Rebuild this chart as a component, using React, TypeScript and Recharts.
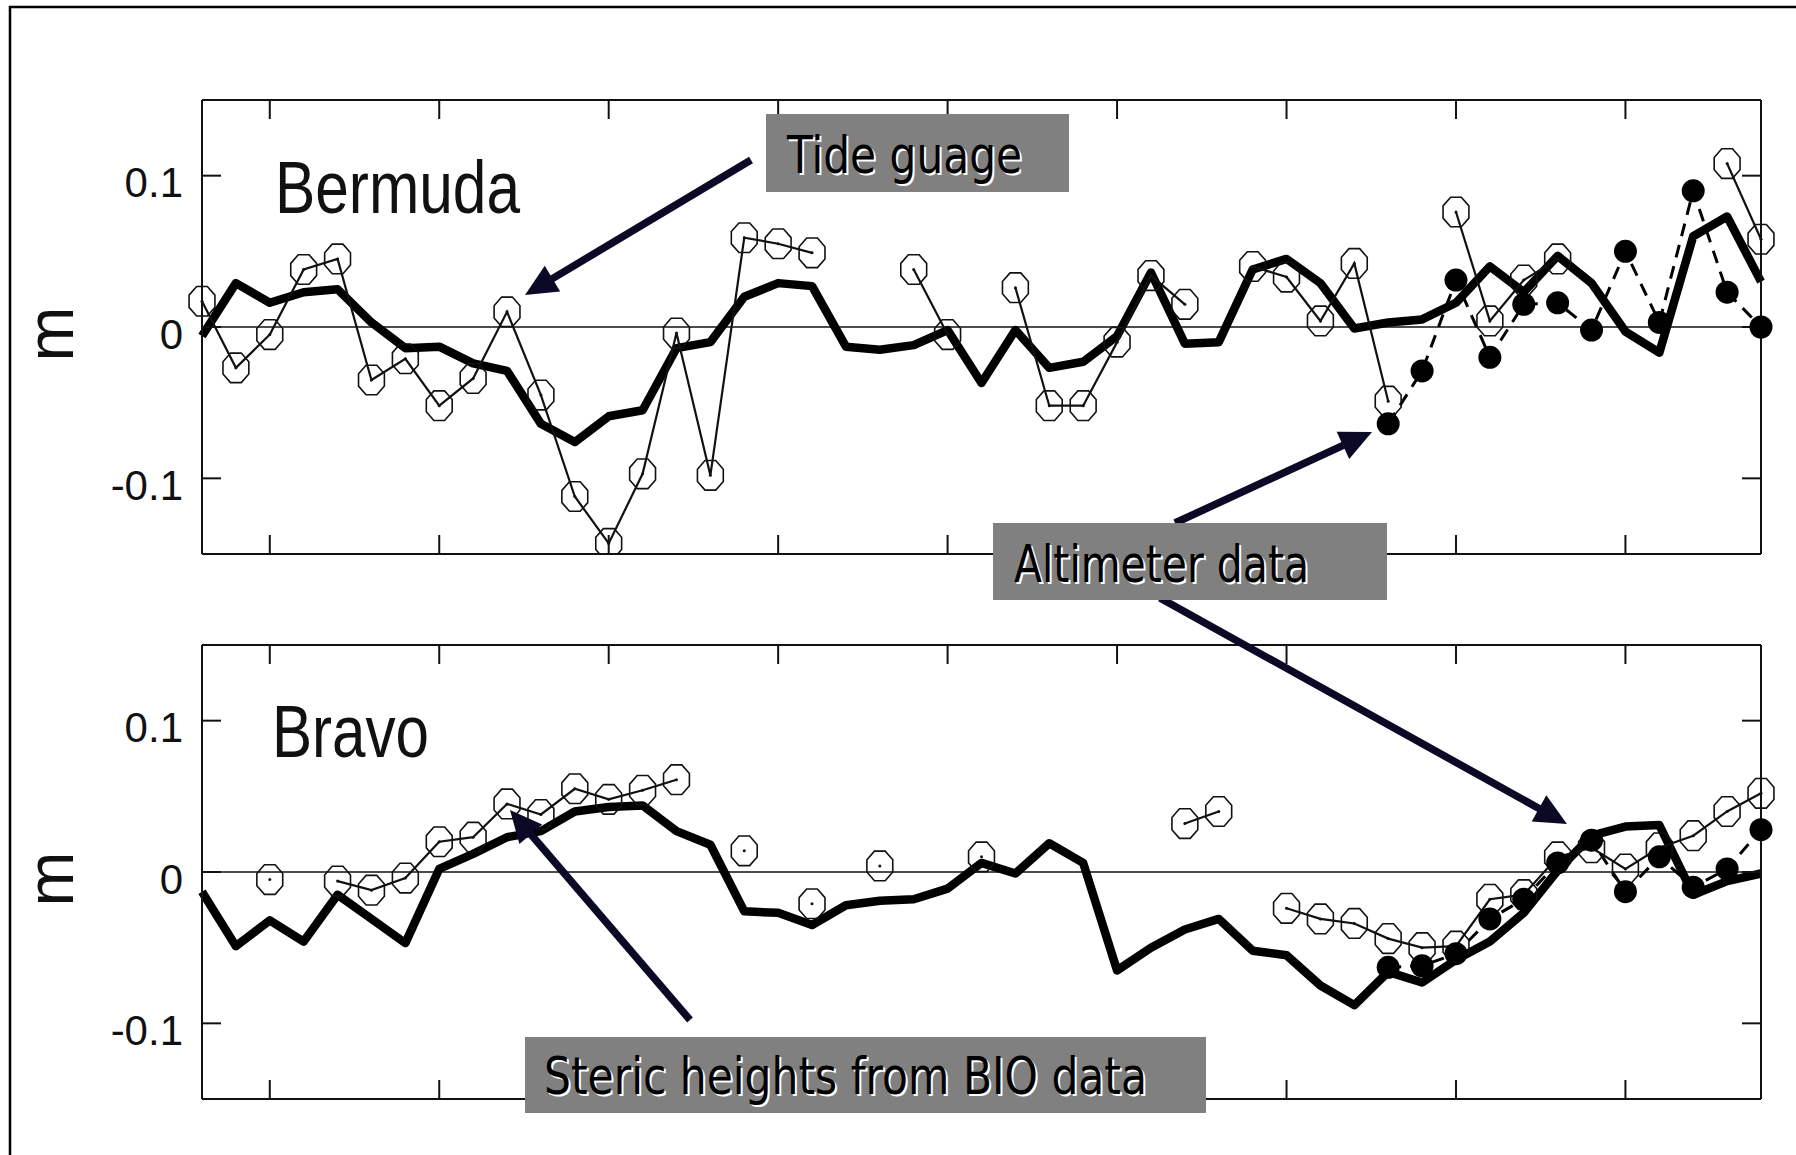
import React from 'react';
import { LineChart, Line, XAxis, YAxis, ReferenceLine } from 'recharts';

// ---------- data ----------
const YEARS = [
  1958, 1959, 1960, 1961, 1962, 1963, 1964, 1965, 1966, 1967,
  1968, 1969, 1970, 1971, 1972, 1973, 1974, 1975, 1976, 1977,
  1978, 1979, 1980, 1981, 1982, 1983, 1984, 1985, 1986, 1987,
  1988, 1989, 1990, 1991, 1992, 1993, 1994, 1995, 1996, 1997,
  1998, 1999, 2000, 2001, 2002, 2003, 2004,
];
const X_TICKS = [1960, 1965, 1970, 1975, 1980, 1985, 1990, 1995, 2000];
const Y_TICKS = [-0.1, 0, 0.1];
const Y_DOMAIN: [number, number] = [-0.15, 0.15];

// Bermuda
const BERMUDA_THICK = [
  -0.006, 0.029, 0.016, 0.023, 0.025, 0.003, -0.014, -0.013, -0.024, -0.029,
  -0.064, -0.076, -0.059, -0.055, -0.014, -0.010, 0.020, 0.029, 0.027, -0.013,
  -0.015, -0.012, -0.002, -0.037, -0.002, -0.027, -0.023, -0.006, 0.036, -0.011,
  -0.010, 0.038, 0.045, 0.029, -0.001, 0.003, 0.005, 0.016, 0.040, 0.023,
  0.047, 0.029, -0.003, -0.017, 0.060, 0.073, 0.030,
];
const BERMUDA_TIDE = [
  0.017, -0.027, -0.005, 0.038, 0.045, -0.035, -0.021, -0.052, -0.034, 0.010,
  -0.045, -0.112, -0.143, -0.097, -0.004, -0.098, 0.059, 0.055, 0.049, null,
  null, 0.038, -0.005, null, 0.026, -0.052, -0.052, -0.010, 0.034, 0.015,
  null, 0.040, 0.033, 0.004, 0.042, -0.049, null, 0.076, 0.004, 0.031,
  0.045, null, null, null, null, 0.108, 0.058,
];
const BERMUDA_ALT = [
  null, null, null, null, null, null, null, null, null, null,
  null, null, null, null, null, null, null, null, null, null,
  null, null, null, null, null, null, null, null, null, null,
  null, null, null, null, null, -0.064, -0.029, 0.031, -0.020, 0.015,
  0.016, -0.002, 0.050, 0.003, 0.090, 0.023, 0.000,
];

// Bravo
const BRAVO_THICK = [
  -0.013, -0.049, -0.032, -0.046, -0.015, -0.031, -0.047, 0.002, 0.012, 0.023,
  0.027, 0.040, 0.043, 0.044, 0.027, 0.018, -0.026, -0.027, -0.035, -0.022,
  -0.019, -0.018, -0.011, 0.006, -0.001, 0.019, 0.006, -0.065, -0.050, -0.038,
  -0.031, -0.052, -0.055, -0.075, -0.088, -0.066, -0.073, -0.058, -0.046, -0.027,
  0.001, 0.024, 0.030, 0.031, -0.015, -0.006, -0.001,
];
const BRAVO_TIDE = [
  null, null, -0.005, null, -0.006, -0.012, -0.004, 0.020, 0.023, 0.045,
  0.038, 0.055, 0.048, 0.054, 0.061, null, 0.014, null, -0.021, null,
  0.004, null, null, 0.010, null, null, null, null, null, 0.032,
  0.040, null, -0.024, -0.031, -0.034, -0.044, -0.050, -0.049, -0.018, -0.015,
  0.010, 0.016, 0.002, 0.016, 0.024, 0.040, 0.052,
];
const BRAVO_ALT = [
  null, null, null, null, null, null, null, null, null, null,
  null, null, null, null, null, null, null, null, null, null,
  null, null, null, null, null, null, null, null, null, null,
  null, null, null, null, null, -0.063, -0.062, -0.054, -0.031, -0.018,
  0.006, 0.021, -0.013, 0.010, -0.010, 0.002, 0.028,
];

const buildRows = (thick: (number | null)[], tide: (number | null)[], alt: (number | null)[]) =>
  YEARS.map((year, i) => ({ year, thick: thick[i], tide: tide[i], alt: alt[i] }));

const BERMUDA_ROWS = buildRows(BERMUDA_THICK, BERMUDA_TIDE, BERMUDA_ALT);
const BRAVO_ROWS = buildRows(BRAVO_THICK, BRAVO_TIDE, BRAVO_ALT);

// ---------- layout ----------
const W = 1796;
const H = 1155;
const PLOT_LEFT = 202;
const PLOT_RIGHT = 1761;
const YAXIS_W = 120;
const PAD = 40;
const INK = '#111';
const TICK_LEN = 19;

// ---------- markers ----------
const OpenMarker = (p: any) => {
  const { cx, cy, value, index } = p;
  if (value == null || cx == null || cy == null || isNaN(cy)) return <g key={`o${index}`} />;
  const rx = 14;
  const ry = 16;
  const pts: string[] = [];
  for (let k = 0; k < 8; k++) {
    const a = (Math.PI / 8) + (k * Math.PI) / 4;
    pts.push(`${cx + rx * Math.cos(a)},${cy + ry * Math.sin(a)}`);
  }
  return (
    <g key={`o${index}`}>
      <polygon points={pts.join(' ')} fill="none" stroke={INK} strokeWidth={1.6} />
      <circle cx={cx} cy={cy} r={1.5} fill={INK} />
    </g>
  );
};

const FilledMarker = (p: any) => {
  const { cx, cy, value, index } = p;
  if (value == null || cx == null || cy == null || isNaN(cy)) return <g key={`f${index}`} />;
  return <circle key={`f${index}`} cx={cx} cy={cy} r={11.5} fill="#000" />;
};

const YTick = (p: any) => {
  const { x, y, payload } = p;
  return (
    <text
      x={x}
      y={y + 7}
      textAnchor="end"
      dominantBaseline="central"
      fontFamily="'Liberation Sans', Arial, sans-serif"
      fontSize={42}
      fill={INK}
    >
      {String(payload.value)}
    </text>
  );
};

const EmptyTick = () => <g />;

function Panel({ rows, plotTop, plotBottom }: { rows: any[]; plotTop: number; plotBottom: number }) {
  const height = plotBottom - plotTop + 2 * PAD;
  return (
    <div style={{ position: 'absolute', left: 0, top: plotTop - PAD, width: W, height }}>
      <LineChart
        width={W}
        height={height}
        data={rows}
        margin={{ top: PAD, bottom: PAD, left: PLOT_LEFT - YAXIS_W, right: W - PLOT_RIGHT }}
      >
        <XAxis
          xAxisId="b"
          dataKey="year"
          type="number"
          domain={[1958, 2004]}
          ticks={X_TICKS}
          orientation="bottom"
          mirror
          tick={EmptyTick}
          tickSize={TICK_LEN}
          stroke={INK}
          axisLine={{ stroke: INK, strokeWidth: 2 }}
          tickLine={{ stroke: INK, strokeWidth: 2 }}
        />
        <XAxis
          xAxisId="t"
          dataKey="year"
          type="number"
          domain={[1958, 2004]}
          ticks={X_TICKS}
          orientation="top"
          mirror
          tick={EmptyTick}
          tickSize={TICK_LEN}
          stroke={INK}
          axisLine={{ stroke: INK, strokeWidth: 2 }}
          tickLine={{ stroke: INK, strokeWidth: 2 }}
        />
        <YAxis
          yAxisId="l"
          orientation="left"
          width={YAXIS_W}
          domain={Y_DOMAIN}
          ticks={Y_TICKS}
          tickLine={false}
          tickSize={10}
          tickMargin={9}
          tick={<YTick />}
          axisLine={{ stroke: INK, strokeWidth: 2 }}
          allowDataOverflow
        />
        <YAxis
          yAxisId="lm"
          orientation="left"
          mirror
          domain={Y_DOMAIN}
          ticks={Y_TICKS}
          tick={EmptyTick}
          tickSize={TICK_LEN}
          axisLine={false}
          tickLine={{ stroke: INK, strokeWidth: 2 }}
          allowDataOverflow
        />
        <YAxis
          yAxisId="r"
          orientation="right"
          mirror
          domain={Y_DOMAIN}
          ticks={Y_TICKS}
          tick={EmptyTick}
          tickSize={TICK_LEN}
          axisLine={{ stroke: INK, strokeWidth: 2 }}
          tickLine={{ stroke: INK, strokeWidth: 2 }}
          allowDataOverflow
        />
        <ReferenceLine xAxisId="b" yAxisId="l" y={0} stroke={INK} strokeWidth={1.6} />
        <Line
          xAxisId="b"
          yAxisId="l"
          dataKey="thick"
          type="linear"
          stroke="#000"
          strokeWidth={8.5}
          strokeLinejoin="round"
          dot={false}
          activeDot={false}
          isAnimationActive={false}
        />
        <Line
          xAxisId="b"
          yAxisId="l"
          dataKey="tide"
          type="linear"
          stroke={INK}
          strokeWidth={2.2}
          dot={OpenMarker}
          activeDot={false}
          isAnimationActive={false}
        />
        <Line
          xAxisId="b"
          yAxisId="l"
          dataKey="alt"
          type="linear"
          stroke="#000"
          strokeWidth={3}
          strokeDasharray="13 9"
          dot={FilledMarker}
          activeDot={false}
          isAnimationActive={false}
        />
      </LineChart>
    </div>
  );
}

// ---------- annotations ----------
const ARROW_COLOR = '#0a0a26';
function Arrow({ x1, y1, x2, y2 }: { x1: number; y1: number; x2: number; y2: number }) {
  const dx = x2 - x1;
  const dy = y2 - y1;
  const len = Math.sqrt(dx * dx + dy * dy);
  const ux = dx / len;
  const uy = dy / len;
  const headL = 32;
  const headW = 15;
  const bx = x2 - ux * headL;
  const by = y2 - uy * headL;
  const pts = `${x2},${y2} ${bx - uy * headW},${by + ux * headW} ${bx + uy * headW},${by - ux * headW}`;
  return (
    <g>
      <line x1={x1} y1={y1} x2={bx + ux * 2} y2={by + uy * 2} stroke={ARROW_COLOR} strokeWidth={7.5} />
      <polygon points={pts} fill={ARROW_COLOR} />
    </g>
  );
}

function Callout({ x, y, w, h, tx, ty, tlen, text }: any) {
  const font = "'DejaVu Sans', Verdana, sans-serif";
  return (
    <g>
      <rect x={x} y={y} width={w} height={h} fill="#808080" />
      <text x={tx + 2} y={ty + 2} fontFamily={font} fontSize={51} fill="#ffffff" textLength={tlen} lengthAdjust="spacingAndGlyphs">
        {text}
      </text>
      <text x={tx} y={ty} fontFamily={font} fontSize={51} fill="#000000" textLength={tlen} lengthAdjust="spacingAndGlyphs">
        {text}
      </text>
    </g>
  );
}

function Overlay() {
  const sans = "'Liberation Sans', Arial, sans-serif";
  return (
    <svg width={W} height={H} style={{ position: 'absolute', left: 0, top: 0, pointerEvents: 'none' }}>
      <path d={`M10,${H + 5} L10,7 L${W + 5},7`} fill="none" stroke="#000" strokeWidth={2.5} />
      <text transform="translate(73,334) rotate(-90)" textAnchor="middle" fontFamily={sans} fontSize={66} fill={INK}>m</text>
      <text transform="translate(73,879) rotate(-90)" textAnchor="middle" fontFamily={sans} fontSize={66} fill={INK}>m</text>
      <text x={275} y={213} fontFamily={sans} fontSize={74} fill={INK} textLength={245} lengthAdjust="spacingAndGlyphs">Bermuda</text>
      <text x={272} y={757} fontFamily={sans} fontSize={74} fill={INK} textLength={157} lengthAdjust="spacingAndGlyphs">Bravo</text>

      <Arrow x1={751} y1={160} x2={525} y2={295} />
      <Arrow x1={1175} y1={523} x2={1372} y2={432} />
      <Arrow x1={1160} y1={598} x2={1567} y2={824} />
      <Arrow x1={690} y1={1020} x2={510} y2={810} />

      <Callout x={766} y={114} w={303} h={78} tx={787} ty={173} tlen={235} text="Tide guage" />
      <Callout x={993} y={523} w={394} h={77} tx={1014} ty={582} tlen={295} text="Altimeter data" />
      <Callout x={525} y={1037} w={681} h={76} tx={544} ty={1094} tlen={603} text="Steric heights from BIO data" />
    </svg>
  );
}

export default function App() {
  return (
    <div style={{ position: 'absolute', left: 0, top: 0, width: W, height: H, background: '#fff', overflow: 'hidden' }}>
      <Panel rows={BERMUDA_ROWS} plotTop={100} plotBottom={554} />
      <Panel rows={BRAVO_ROWS} plotTop={645} plotBottom={1099} />
      <Overlay />
    </div>
  );
}
